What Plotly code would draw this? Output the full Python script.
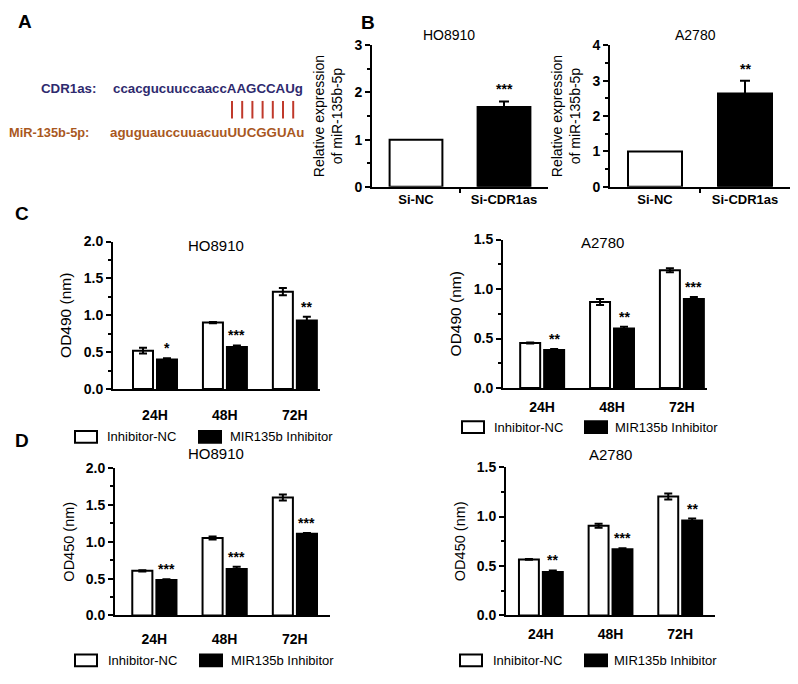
import plotly.graph_objects as go

# ---------------- Data ----------------
# Panel A: sequence alignment
cdr1as_label = "CDR1as:"
cdr1as_seq = "ccacgucuuccaaccAAGCCAUg"
mir_label = "MiR-135b-5p:"
mir_seq = "aguguauccuuacuuUUCGGUAu"
n_pairs = 7

# Panel B: relative expression of miR-135b-5p
b_categories = ["Si-NC", "Si-CDR1as"]
b_ho8910 = [1.0, 1.69]
b_ho8910_err = [0.0, 0.12]
b_ho8910_sig = "***"
b_a2780 = [1.0, 2.64]
b_a2780_err = [0.0, 0.36]
b_a2780_sig = "**"

# Panels C/D: time course
time_labels = ["24H", "48H", "72H"]
group_names = ["Inhibitor-NC", "MIR135b Inhibitor"]

c_ho_nc = [0.52, 0.90, 1.32]
c_ho_nc_err = [0.04, 0.01, 0.05]
c_ho_inh = [0.40, 0.57, 0.93]
c_ho_inh_err = [0.015, 0.02, 0.05]
c_ho_sig = ["*", "***", "**"]

c_a_nc = [0.455, 0.87, 1.19]
c_a_nc_err = [0.005, 0.03, 0.02]
c_a_inh = [0.385, 0.60, 0.90]
c_a_inh_err = [0.01, 0.02, 0.02]
c_a_sig = ["**", "**", "***"]

d_ho_nc = [0.605, 1.05, 1.60]
d_ho_nc_err = [0.01, 0.02, 0.04]
d_ho_inh = [0.48, 0.63, 1.11]
d_ho_inh_err = [0.01, 0.03, 0.01]
d_ho_sig = ["***", "***", "***"]

d_a_nc = [0.567, 0.907, 1.203]
d_a_nc_err = [0.005, 0.02, 0.03]
d_a_inh = [0.44, 0.67, 0.96]
d_a_inh_err = [0.015, 0.01, 0.02]
d_a_sig = ["**", "***", "**"]

# ---------------- Layout helpers ----------------
# page has an 8px body margin: figure placed at (8, 8)
OFF = 8
W, H = 790, 676
FONT = "Liberation Sans, Arial, sans-serif"


def px_x(v):
    return (v - OFF) / W


def px_y(v):
    return 1 - (v - OFF) / H


fig = go.Figure()

BAR_W = 0.286
OFF_NC = -0.314
OFF_INH = 0.029
STAR_FONT = dict(family=FONT, size=14, color="black", weight="bold")


def add_b_panel(idx, vals, errs, sig):
    xa = "x" if idx == 1 else f"x{idx}"
    ya = "y" if idx == 1 else f"y{idx}"
    xs = list(range(len(b_categories)))
    fig.add_trace(go.Bar(x=[xs[0]], y=[vals[0]], width=0.6, xaxis=xa, yaxis=ya,
                         marker=dict(color="white", line=dict(color="black", width=2)),
                         showlegend=False, name=b_categories[0]))
    fig.add_trace(go.Bar(x=[xs[1]], y=[vals[1]], width=0.6, xaxis=xa, yaxis=ya,
                         marker=dict(color="black", line=dict(color="black", width=2)),
                         error_y=dict(type="data", array=[errs[1]], color="black", thickness=2, width=5),
                         showlegend=False, name=b_categories[1]))
    fig.add_annotation(x=xs[1], y=vals[1] + errs[1], xref=xa, yref=ya, text=sig,
                       showarrow=False, yanchor="bottom", yshift=2, font=STAR_FONT)


def add_cd_panel(idx, nc, nc_err, inh, inh_err, sig):
    xa = f"x{idx}"
    ya = f"y{idx}"
    xs = list(range(len(time_labels)))
    fig.add_trace(go.Bar(x=xs, y=nc, width=BAR_W, offset=OFF_NC, xaxis=xa, yaxis=ya,
                         marker=dict(color="white", line=dict(color="black", width=2)),
                         error_y=dict(type="data", array=nc_err, color="black", thickness=2, width=4),
                         name=group_names[0], showlegend=False))
    fig.add_trace(go.Bar(x=xs, y=inh, width=BAR_W, offset=OFF_INH, xaxis=xa, yaxis=ya,
                         marker=dict(color="black", line=dict(color="black", width=2)),
                         error_y=dict(type="data", array=inh_err, color="black", thickness=2, width=4),
                         name=group_names[1], showlegend=False))
    for i in xs:
        fig.add_annotation(x=i + OFF_INH + BAR_W / 2, y=inh[i] + inh_err[i], xref=xa, yref=ya,
                           text=sig[i], showarrow=False, yanchor="bottom", yshift=0,
                           font=STAR_FONT)


add_b_panel(1, b_ho8910, b_ho8910_err, b_ho8910_sig)
add_b_panel(2, b_a2780, b_a2780_err, b_a2780_sig)
add_cd_panel(3, c_ho_nc, c_ho_nc_err, c_ho_inh, c_ho_inh_err, c_ho_sig)
add_cd_panel(4, c_a_nc, c_a_nc_err, c_a_inh, c_a_inh_err, c_a_sig)
add_cd_panel(5, d_ho_nc, d_ho_nc_err, d_ho_inh, d_ho_inh_err, d_ho_sig)
add_cd_panel(6, d_a_nc, d_a_nc_err, d_a_inh, d_a_inh_err, d_a_sig)

tick_font = dict(family=FONT, size=14, color="black", weight="bold")

# axis geometry in page pixels: (x0, x1, ybottom, ytop)
geom = {
    1: (372, 548, 183, 38),
    2: (610, 790, 183, 38),
    3: (113, 320, 390, 239),
    4: (503, 707, 389, 237),
    5: (115, 330, 622, 471),
    6: (506, 715, 622, 470),
}
yranges = {1: [0, 3], 2: [0, 4], 3: [0, 2], 4: [0, 1.5], 5: [0, 2], 6: [0, 1.5]}
xranges = {1: [-0.5, 1.5], 2: [-0.5, 1.5], 3: [-0.6, 2.36], 4: [-0.56, 2.36],
           5: [-0.56, 2.5], 6: [-0.5, 2.5]}
xstandoff = {1: 0, 2: 0, 3: 12, 4: 5, 5: 10, 6: 5}
ytitles = {
    1: "Relative expression<br>of miR-135b-5p",
    2: "Relative expression<br>of miR-135b-5p",
    3: "OD490 (nm)", 4: "OD490 (nm)", 5: "OD450 (nm)", 6: "OD450 (nm)",
}
ytitle_size = {1: 14, 2: 14, 3: 15.5, 4: 15.5, 5: 14.5, 6: 14.5}
ytitle_standoff = {1: 8, 2: 8, 3: 8, 4: 8, 5: 8, 6: 8}
lay = {}
for i, (x0, x1, yb, yt) in geom.items():
    xk = "xaxis" if i == 1 else f"xaxis{i}"
    yk = "yaxis" if i == 1 else f"yaxis{i}"
    xa = "x" if i == 1 else f"x{i}"
    ya = "y" if i == 1 else f"y{i}"
    if i <= 2:
        tv = list(range(len(b_categories)))
        tt = b_categories
        xfont = dict(family=FONT, size=13, color="black", weight="bold")
        ytick = dict(dtick=1, minor=dict(dtick=0.5, ticks="outside", ticklen=3,
                                         tickcolor="black", tickwidth=1.5))
        xminor = dict(tickvals=[0.5], ticks="outside", ticklen=4, tickcolor="black", tickwidth=1.5)
    else:
        tv = list(range(len(time_labels)))
        tt = time_labels
        xfont = tick_font
        ytick = dict(dtick=0.5, tickformat=".1f",
                     minor=dict(dtick=0.25, ticks="outside", ticklen=3,
                                tickcolor="black", tickwidth=1.5))
        xminor = None
    xa_d = dict(domain=[px_x(x0), px_x(x1)], range=xranges[i], anchor=ya,
                showline=True, linewidth=2, linecolor="black", showgrid=False,
                zeroline=False, tickmode="array", tickvals=tv, ticktext=tt,
                ticks="", tickfont=xfont, ticklabelstandoff=xstandoff[i])
    if xminor:
        xa_d["minor"] = xminor
    lay[xk] = xa_d
    ya_d = dict(domain=[px_y(yb), px_y(yt)], range=yranges[i], anchor=xa,
                showline=True, linewidth=2, linecolor="black", showgrid=False,
                zeroline=False, ticks="outside", ticklen=5, tickwidth=1.5, tickcolor="black",
                tickfont=dict(family=FONT, size=14, color="black", weight="bold"),
                title=dict(text=ytitles[i], standoff=ytitle_standoff[i],
                           font=dict(family=FONT, size=ytitle_size[i], color="black")),
                **ytick)
    lay[yk] = ya_d

fig.update_layout(**lay)

# legends (drawn as boxes + labels), positions in page pixels:
# (white box x0, black box x0, y center, white text x, black text x)
legend_pos = [
    (75, 199, 439, 105, 228),
    (462, 585, 429, 492, 613),
    (75, 200, 668, 106, 229),
    (460, 585, 668, 491, 612),
]
box_fill = ["white", "black"]
for wx, bx, yc, tx1, tx2 in legend_pos:
    for bx0, tx, fill, name in [(wx, tx1, box_fill[0], group_names[0]),
                                (bx, tx2, box_fill[1], group_names[1])]:
        fig.add_shape(type="rect", xref="paper", yref="paper",
                      x0=px_x(bx0), x1=px_x(bx0 + 22), y0=px_y(yc + 6), y1=px_y(yc - 6),
                      fillcolor=fill, line=dict(color="black", width=2))
        fig.add_annotation(x=px_x(tx), y=px_y(yc), xref="paper", yref="paper", text=name,
                           showarrow=False, xanchor="left", yanchor="middle",
                           font=dict(family=FONT, size=13, color="black"))

# subplot titles
titles = [
    (449, 27, "HO8910", 14), (695, 27, "A2780", 14),
    (216, 243, "HO8910", 15), (602, 240, "A2780", 15),
    (216, 456, "HO8910", 15), (610, 457, "A2780", 15),
]
for x, y, t, s in titles:
    fig.add_annotation(x=px_x(x), y=px_y(y), xref="paper", yref="paper", text=t,
                       showarrow=False, xanchor="center", yanchor="middle",
                       font=dict(family=FONT, size=s, color="black"))

# panel letters
for x, y, t in [(25, 14, "A"), (368, 15, "B"), (22, 210, "C"), (22, 443, "D")]:
    fig.add_annotation(x=px_x(x), y=px_y(y), xref="paper", yref="paper", text=t,
                       showarrow=False, xanchor="center", yanchor="middle",
                       font=dict(family=FONT, size=19, color="black", weight="bold"))

# Panel A text
NAVY = "#2e2a6e"
BROWN = "#a9581e"
for x, y, t, c, s in [(39, 82, cdr1as_label, NAVY, 13.3), (111, 82, cdr1as_seq, NAVY, 13.3),
                      (7, 127, mir_label, BROWN, 12.8), (108, 127, mir_seq, BROWN, 13.3)]:
    fig.add_annotation(x=px_x(x), y=px_y(y), xref="paper", yref="paper", text=t,
                       showarrow=False, xanchor="left", yanchor="middle",
                       font=dict(family=FONT, size=s, color=c, weight="bold"))
for k in range(n_pairs):
    xp = 232 + k * 10.2
    fig.add_shape(type="line", xref="paper", yref="paper",
                  x0=px_x(xp), x1=px_x(xp), y0=px_y(95), y1=px_y(113),
                  line=dict(color="#c0392b", width=2))

fig.update_layout(width=W, height=H, autosize=False,
                  margin=dict(l=0, r=0, t=0, b=0),
                  paper_bgcolor="white", plot_bgcolor="white",
                  barmode="overlay", font=dict(family=FONT, color="black"))

fig.write_html("out.html")
